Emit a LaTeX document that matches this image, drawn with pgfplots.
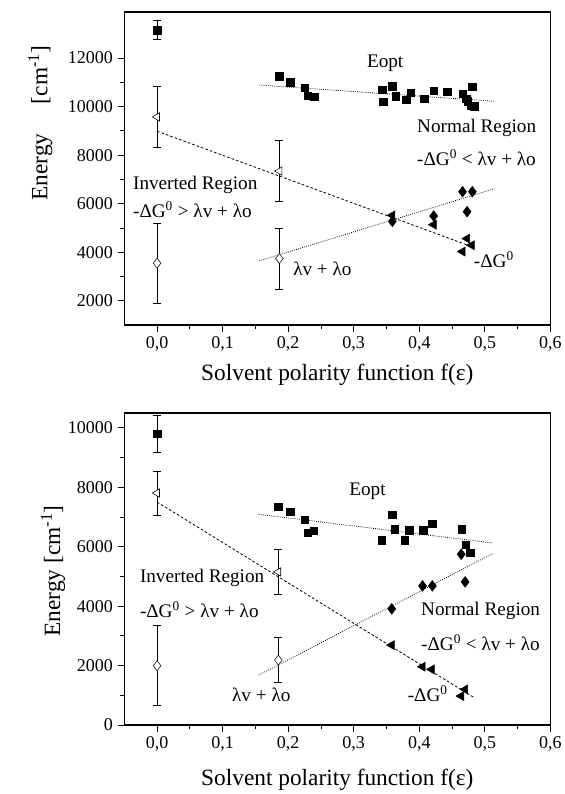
\documentclass[border=0pt]{standalone}
\usepackage{pgfplots}
\pgfplotsset{compat=1.18}
\usepackage{fontspec}
\setmainfont{Liberation Serif}
\tikzset{ann/.style={font=\fontsize{14.4}{17}\selectfont, anchor=west, inner sep=0pt}}
\begin{document}
\pgfplotsset{
  myax/.style={
    scale only axis, width=319.5pt,
    xmin=-0.05, xmax=0.6,
    xtick={0,0.1,...,0.6}, minor x tick num=1,
    tick align=outside, xtick pos=bottom, ytick pos=left,
    major tick length=5pt, minor tick length=3pt,
    tick style={black, line width=0.6pt},
    axis line style={line width=0.8pt},
    scaled y ticks=false,
    /pgf/number format/assume math mode=true,
    /pgf/number format/1000 sep={},
    xticklabel style={/pgf/number format/.cd, fixed, fixed zerofill, precision=1, use comma},
    yticklabel style={/pgf/number format/.cd, fixed, precision=0},
    ticklabel style={font=\fontsize{13.5}{15}\selectfont},
    label style={font=\fontsize{17.5}{20}\selectfont},
    xlabel={Solvent polarity function f(ε)},
    clip=false,
  },
  sq/.style={only marks, mark=square*, mark size=2.8pt, black},
  trif/.style={only marks, mark=triangle*, mark size=3.9pt, black, mark options={rotate=90}},
  trio/.style={only marks, mark=triangle*, mark size=3.6pt, black, mark options={rotate=90, fill=white}},
  dmf/.style={only marks, mark=diamond*, mark size=4pt, black},
  dmo/.style={only marks, mark=diamond*, mark size=3.8pt, black, mark options={fill=white}},
  eb/.style={error bars/.cd, y dir=both, y explicit, error mark options={rotate=90, mark size=3pt, line width=0.6pt}, error bar style={line width=0.6pt}},
}
\begin{tikzpicture}
\useasboundingbox (0,0) rectangle (420.75pt,595.5pt);
% ---------------- top
\begin{axis}[myax, at={(90.75pt,351.75pt)}, anchor=south west, height=234.75pt,
  ymin=1000, ymax=13900, ytick={2000,4000,...,12000}, minor y tick num=1,
  ylabel={Energy\hspace{22pt}[cm\textsuperscript{-1}]},
  xlabel style={at={(axis description cs:0.5,-0.16)}, anchor=center},
  ylabel style={at={(axis description cs:-0.197,0.645)}, anchor=center}]
\addplot[sq, eb] coordinates {(0,13150) +- (0,390)};
\addplot[sq] coordinates {
(0.1866,11247) (0.203,11000) (0.225,10767) (0.230,10452) (0.240,10397)
(0.3437,10699) (0.345,10192) (0.359,10836) (0.364,10425) (0.380,10288)
(0.387,10575) (0.408,10329) (0.422,10657) (0.443,10603) (0.466,10520)
(0.472,10315) (0.474,10219) (0.481,10808) (0.479,10041) (0.484,10014)};
\addplot[black, densely dotted, line width=0.6pt] coordinates {(0.156,10890) (0.5145,10219)};
\addplot[trio, eb] coordinates {(0,9575) +- (0,1250) (0.1866,7342) +- (0,1250)};
\addplot[trif] coordinates {(0.359,5520) (0.422,5136) (0.466,4027) (0.473,4561) (0.480,4287)};
\addplot[black, dashed, dash pattern=on 2pt off 1.5pt, line width=0.6pt] coordinates {(0,8986) (0.484,4191)};
\addplot[dmo, eb] coordinates {(0,3547) +- (0,1640) (0.1866,3739) +- (0,1260)};
\addplot[dmf] coordinates {(0.359,5273) (0.422,5493) (0.466,6493) (0.481,6493) (0.473,5671)};
\addplot[black, densely dotted, line width=0.6pt] coordinates {(0.156,3643) (0.5145,6616)};
\node[ann, anchor=center] at (axis cs:0.348,11795) {Eopt};
\node[ann] at (axis cs:0.3965,9123) {Normal Region};
\node[ann] at (axis cs:0.3965,7890) {-ΔG\textsuperscript{0} < λv + λo};
\node[ann] at (axis cs:-0.037,6794) {Inverted Region};
\node[ann] at (axis cs:-0.037,5766) {-ΔG\textsuperscript{0} > λv + λo};
\node[ann] at (axis cs:0.2074,3328) {λv + λo};
\node[ann] at (axis cs:0.483,3712) {-ΔG\textsuperscript{0}};
\end{axis}
% ---------------- bottom
\begin{axis}[myax, at={(90.75pt,51.75pt)}, anchor=south west, height=234pt,
  ymin=0, ymax=10500, ytick={0,2000,...,10000}, minor y tick num=1,
  ylabel={Energy [cm\textsuperscript{-1}]},
  xlabel style={at={(axis description cs:0.5,-0.176)}, anchor=center},
  ylabel style={at={(axis description cs:-0.167,0.494)}, anchor=center}]
\addplot[sq, eb] coordinates {(0,9800) +- (0,615)};
\addplot[sq] coordinates {
(0.185,7336) (0.203,7168) (0.225,6910) (0.230,6474) (0.239,6530)
(0.343,6216) (0.359,7078) (0.363,6586) (0.378,6216) (0.385,6552)
(0.406,6552) (0.420,6776) (0.465,6586) (0.471,6070) (0.478,5802)};
\addplot[black, densely dotted, line width=0.6pt] coordinates {(0.155,7090) (0.512,6126)};
\addplot[trio, eb] coordinates {(0,7806) +- (0,745) (0.185,5152) +- (0,750)};
\addplot[trif] coordinates {(0.358,2688) (0.405,1960) (0.419,1870) (0.464,974) (0.470,1198)};
\addplot[black, dashed, dash pattern=on 2pt off 1.5pt, line width=0.6pt] coordinates {(0,7504) (0.484,918)};
\addplot[dmo, eb] coordinates {(0,1994) +- (0,1345) (0.185,2184) +- (0,756)};
\addplot[dmf] coordinates {(0.358,3909) (0.405,4682) (0.420,4682) (0.464,5746) (0.470,4816)};
\addplot[black, densely dotted, line width=0.6pt] coordinates {(0.155,1680) (0.512,5768)};
\node[ann, anchor=center] at (axis cs:0.321,7874) {Eopt};
\node[ann] at (axis cs:-0.0265,4962) {Inverted Region};
\node[ann] at (axis cs:-0.0265,3886) {-ΔG\textsuperscript{0} > λv + λo};
\node[ann] at (axis cs:0.4025,3842) {Normal Region};
\node[ann] at (axis cs:0.4025,2766) {-ΔG\textsuperscript{0} < λv + λo};
\node[ann, anchor=center] at (axis cs:0.159,1008) {λv + λo};
\node[ann, anchor=center] at (axis cs:0.413,1064) {-ΔG\textsuperscript{0}};
\end{axis}
\end{tikzpicture}
\end{document}
